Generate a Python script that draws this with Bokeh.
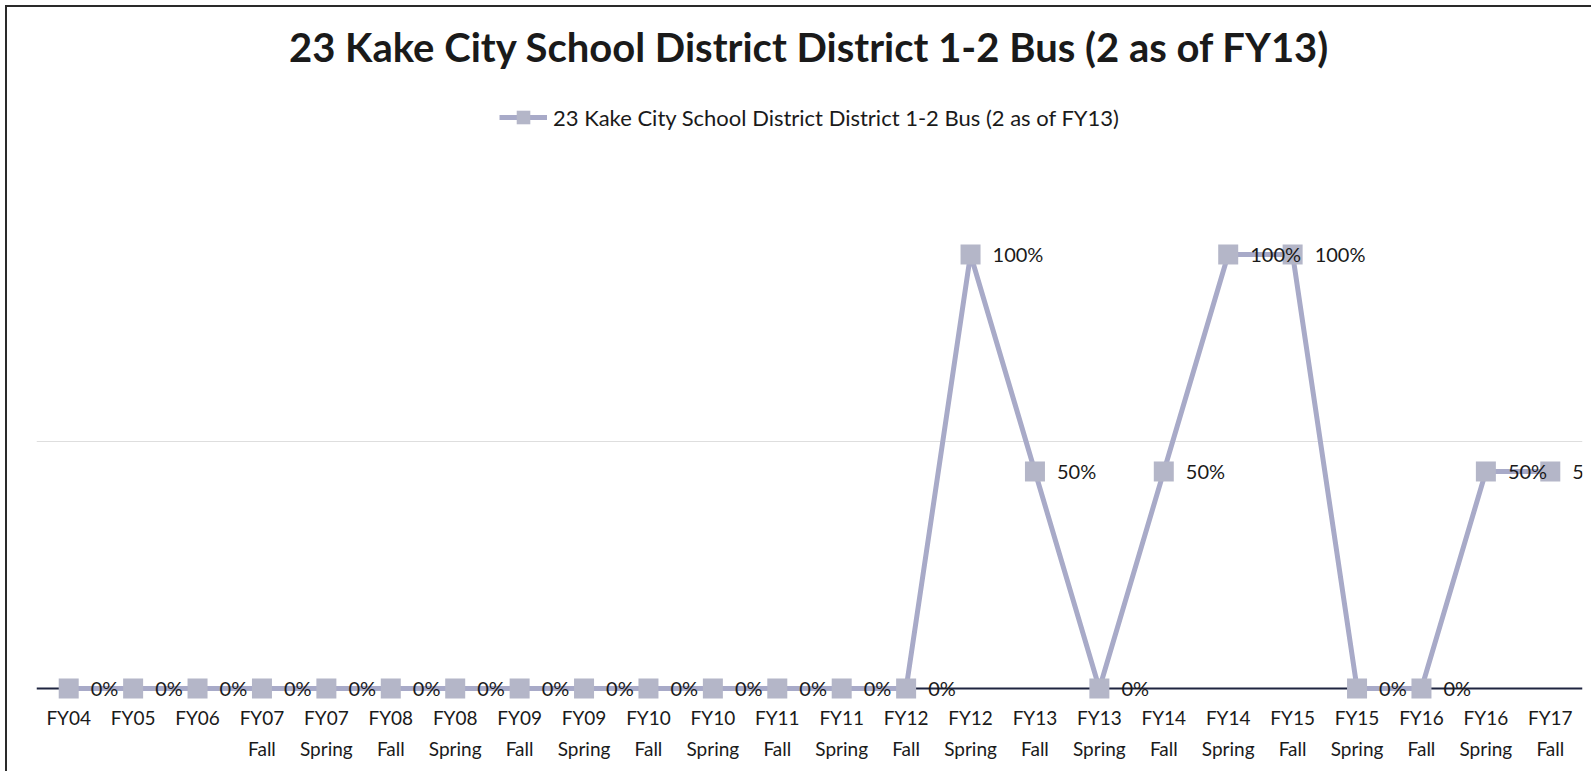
from bokeh.plotting import figure
from bokeh.models import (ColumnDataSource, CategoricalAxis, FactorRange, Range1d,
                          Span, Legend, LegendItem, FixedTicker, CustomJSTickFormatter,
                          LabelSet)
from bokeh.embed import file_html
from bokeh.resources import INLINE
from bokeh.core.properties import value

# ---------------- data ----------------
categories = ["FY04", "FY05", "FY06", "FY07 Fall", "FY07 Spring", "FY08 Fall",
              "FY08 Spring", "FY09 Fall", "FY09 Spring", "FY10 Fall", "FY10 Spring",
              "FY11 Fall", "FY11 Spring", "FY12 Fall", "FY12 Spring", "FY13 Fall",
              "FY13 Spring", "FY14 Fall", "FY14 Spring", "FY15 Fall", "FY15 Spring",
              "FY16 Fall", "FY16 Spring", "FY17 Fall"]
values = [0.0, 0.0, 0.0, 0.0, 0.0, 0.0, 0.0, 0.0, 0.0, 0.0, 0.0, 0.0, 0.0, 0.0,
          1.0, 0.5, 0.0, 0.5, 1.0, 1.0, 0.0, 0.0, 0.5, 0.5]
series_name = "23 Kake City School District District 1-2 Bus (2 as of FY13)"
chart_title = "23 Kake City School District District 1-2 Bus (2 as of FY13)"
grid_ticks = [0.57]

FONT = "Lato"
TEXT = "#1a1a1a"

labels = ["%d%%" % round(v * 100) for v in values]
src = ColumnDataSource(dict(x=categories, y=values, label=labels))

p = figure(x_range=FactorRange(*categories), y_range=Range1d(-0.03, 1.4055),
           width=1586, height=766, output_backend="svg", toolbar_location=None,
           min_border_left=29, min_border_right=11, min_border_top=71,
           min_border_bottom=72, title=chart_title)

p.outline_line_color = None
p.background_fill_color = "white"
p.styles = {"border-top": "2px solid #2a2a2a", "border-left": "2px solid #2a2a2a",
            "margin-left": "5px", "margin-top": "5px"}

p.title.align = "center"
p.title.text_font = FONT
p.title.text_font_size = "40px"
p.title.text_font_style = "bold"
p.title.text_color = TEXT
p.title.standoff = 16

p.yaxis.visible = False
p.xgrid.visible = False
p.ygrid.ticker = FixedTicker(ticks=grid_ticks)
p.ygrid.grid_line_color = "#dedede"

ax = p.xaxis[0]
ax.formatter = CustomJSTickFormatter(code="return String(tick).split(' ')[0];")
ax.axis_line_color = None
ax.major_tick_line_color = None
ax.minor_tick_line_color = None
ax.major_label_text_font = FONT
ax.major_label_text_font_size = "19px"
ax.major_label_text_color = TEXT
ax.major_label_standoff = -2

ax2 = CategoricalAxis(formatter=CustomJSTickFormatter(
    code="var s = String(tick).split(' '); return s.length > 1 ? s[1] : ' ';"))
ax2.axis_line_color = None
ax2.major_tick_line_color = None
ax2.minor_tick_line_color = None
ax2.major_label_text_font = FONT
ax2.major_label_text_font_size = "19px"
ax2.major_label_text_color = TEXT
ax2.major_label_standoff = -1
p.add_layout(ax2, "below")

p.add_layout(Span(location=0, dimension="width", line_color="#1f2540",
                  line_width=2, level="underlay"))

line_r = p.line(x="x", y="y", source=src, line_color="#a8aac8", line_width=5)
mark_r = p.scatter(x="x", y="y", source=src, marker="square", size=20,
                   fill_color="#b4b6c8", line_color=None)
p.add_layout(LabelSet(x="x", y="y", text="label", source=src, x_offset=22,
                      text_baseline="middle", text_align="left", text_font=value(FONT),
                      text_font_size="20px", text_color=TEXT))

legend = Legend(items=[LegendItem(label=series_name, renderers=[line_r, mark_r])],
                location="top_center", orientation="horizontal", glyph_width=48,
                glyph_height=34, label_text_font=FONT, label_text_font_size="22px",
                label_text_color=TEXT, border_line_color=None,
                background_fill_alpha=0, padding=0, margin=22, label_standoff=6)
p.add_layout(legend, "center")

open("out.html", "w").write(file_html(p, INLINE))
